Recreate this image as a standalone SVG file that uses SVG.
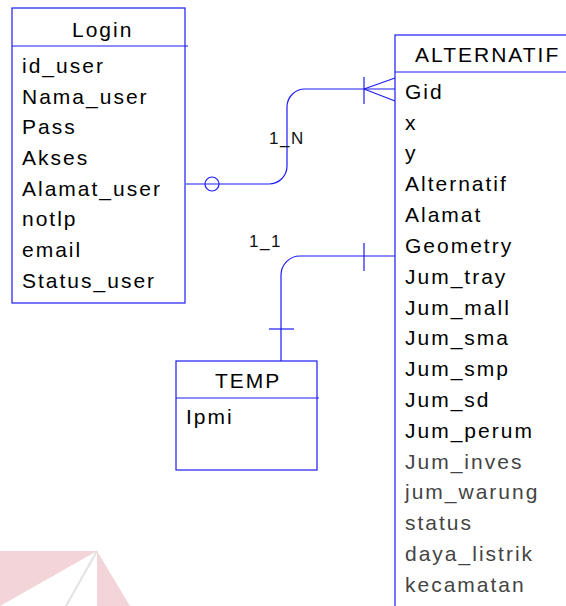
<svg xmlns="http://www.w3.org/2000/svg" width="566" height="606" viewBox="0 0 566 606">
  <style>
    .box { fill: #ffffff; stroke: #1c1cf5; stroke-width: 1.2; }
    .ln { fill: none; stroke: #1c1cf5; stroke-width: 1.2; }
    text { font-family: "Liberation Sans", Arial, sans-serif; font-size: 21px; letter-spacing: 2px; fill: #000000; }
    .dim { fill: #444444; }
    .lbl { font-size: 17px; letter-spacing: 1.5px; fill: #111111; }
  </style>

  <!-- faint logo mark in the lower left corner -->
  <g id="mark">
    <polygon points="0,551 97,551 0,606" fill="#f2d4d9"/>
    <polygon points="97,551 97,606 130,606" fill="#f2d4d9"/>
    <line x1="97" y1="551" x2="66" y2="606" stroke="#e2e2e2" stroke-width="2"/>
  </g>

  <!-- relationships -->
  <g id="connectors">
    <!-- Login 1_N ALTERNATIF -->
    <path class="ln" d="M186,184 H269 A18,18 0 0 0 287,166 V107 A18,18 0 0 1 305,89 H395"/>
    <circle class="ln" cx="212" cy="184" r="7" fill="#ffffff"/>
    <line class="ln" x1="364" y1="77" x2="364" y2="104"/>
    <line class="ln" x1="364" y1="89" x2="395" y2="78"/>
    <line class="ln" x1="364" y1="89" x2="395" y2="101"/>
    <text class="lbl" x="269" y="144">1_N</text>

    <!-- TEMP 1_1 ALTERNATIF -->
    <path class="ln" d="M395,256 H300 A19,19 0 0 0 281,275 V361"/>
    <line class="ln" x1="364" y1="243" x2="364" y2="271"/>
    <line class="ln" x1="269" y1="329" x2="294" y2="329"/>
    <text class="lbl" x="249" y="247">1_1</text>
  </g>

  <g id="login">
    <rect class="box" x="12" y="8" width="173" height="295"/>
    <line class="ln" x1="12" y1="46" x2="188" y2="46"/>
    <text x="72" y="37">Login</text>
    <text x="22" y="73">id_user</text>
    <text x="22" y="104">Nama_user</text>
    <text x="22" y="134">Pass</text>
    <text x="22" y="165">Akses</text>
    <text x="22" y="196">Alamat_user</text>
    <text x="22" y="226">notlp</text>
    <text x="22" y="257">email</text>
    <text x="22" y="288">Status_user</text>
  </g>

  <g id="alternatif">
    <rect class="box" x="395" y="35" width="200" height="600"/>
    <line class="ln" x1="395" y1="72" x2="566" y2="72"/>
    <text x="415" y="62">ALTERNATIF</text>
    <text x="405" y="99">Gid</text>
    <text x="405" y="130">x</text>
    <text x="405" y="160">y</text>
    <text x="405" y="191">Alternatif</text>
    <text x="405" y="222">Alamat</text>
    <text x="405" y="253">Geometry</text>
    <text x="405" y="284">Jum_tray</text>
    <text x="405" y="315">Jum_mall</text>
    <text x="405" y="345">Jum_sma</text>
    <text x="405" y="376">Jum_smp</text>
    <text x="405" y="407">Jum_sd</text>
    <text x="405" y="438">Jum_perum</text>
    <text class="dim" x="405" y="469">Jum_inves</text>
    <text class="dim" x="405" y="499">jum_warung</text>
    <text class="dim" x="405" y="530">status</text>
    <text class="dim" x="405" y="561">daya_listrik</text>
    <text class="dim" x="405" y="592">kecamatan</text>
  </g>

  <g id="temp">
    <rect class="box" x="176" y="361" width="141" height="109"/>
    <line class="ln" x1="176" y1="398" x2="319" y2="398"/>
    <text x="215" y="388">TEMP</text>
    <text x="186" y="424">Ipmi</text>
  </g>
</svg>
